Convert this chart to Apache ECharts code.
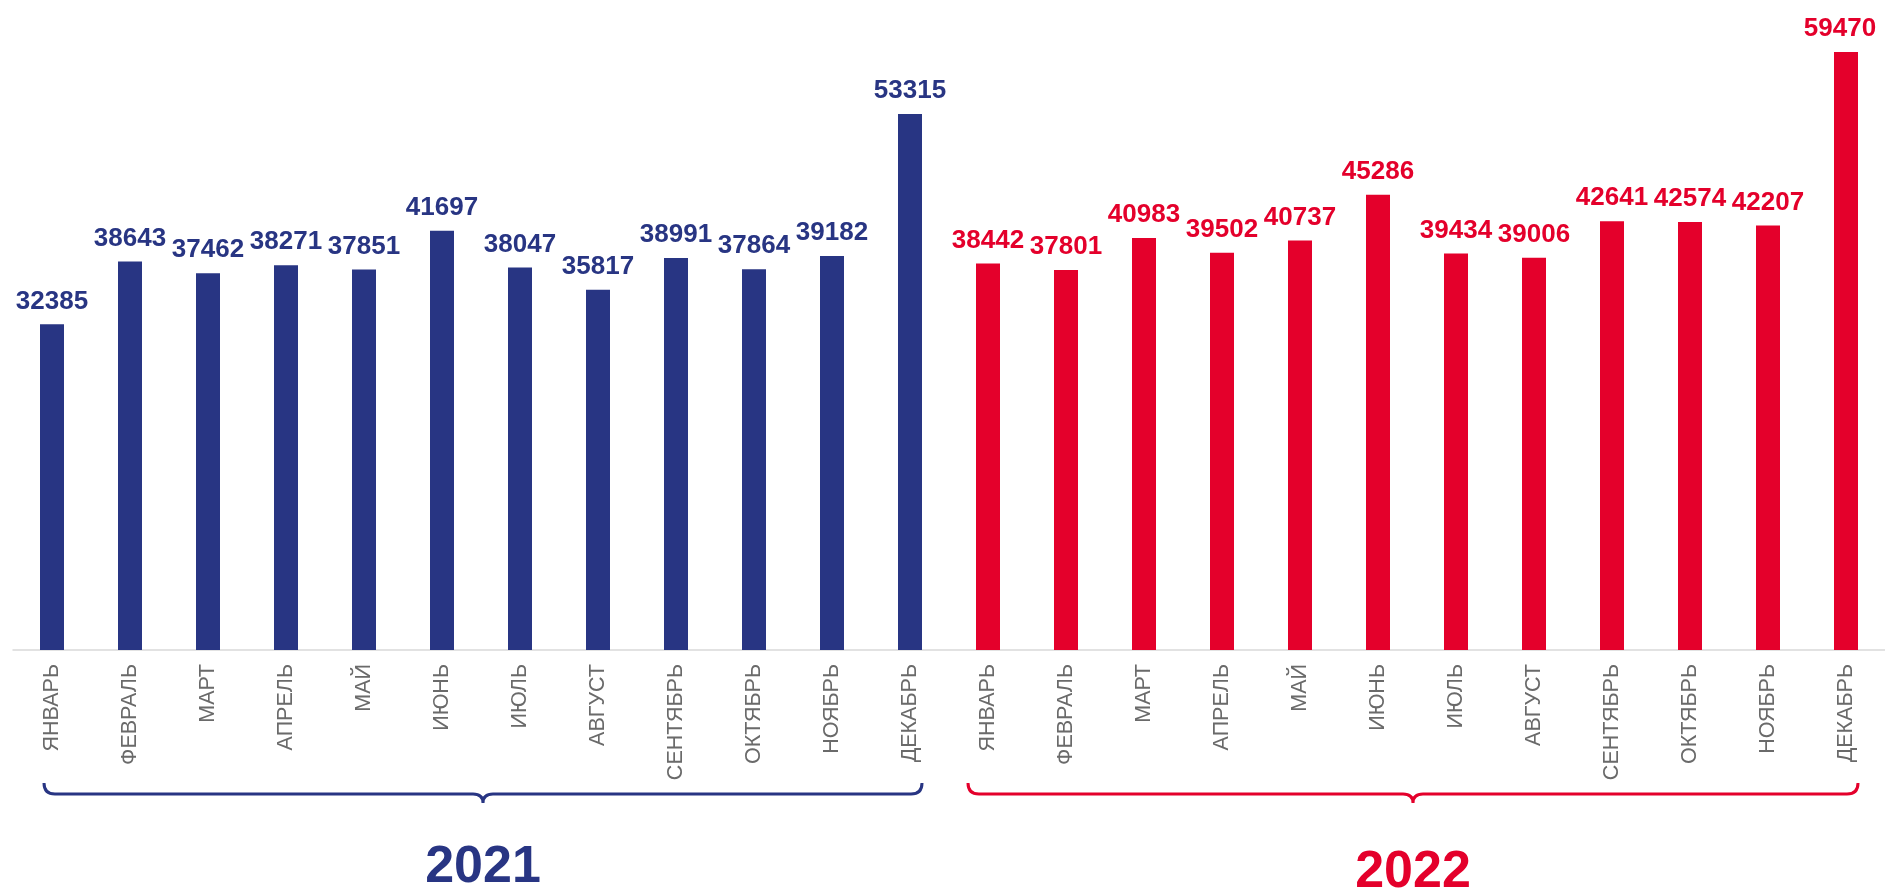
<!DOCTYPE html>
<html>
<head>
<meta charset="utf-8">
<title>2021 / 2022</title>
<script src="https://cdn.jsdelivr.net/npm/echarts@6/dist/echarts.min.js"></script>
<style>
  html, body { margin: 0; padding: 0; background: #fff; }
  #chart { width: 1885px; height: 893px; }
</style>
</head>
<body>
<div id="chart"></div>
<script>
const months = ['ЯНВАРЬ', 'ФЕВРАЛЬ', 'МАРТ', 'АПРЕЛЬ', 'МАЙ', 'ИЮНЬ', 'ИЮЛЬ', 'АВГУСТ', 'СЕНТЯБРЬ', 'ОКТЯБРЬ', 'НОЯБРЬ', 'ДЕКАБРЬ'];
const years = ['2021', '2022'];
const values2021 = [32385, 38643, 37462, 38271, 37851, 41697, 38047, 35817, 38991, 37864, 39182, 53315];
const values2022 = [38442, 37801, 40983, 39502, 40737, 45286, 39434, 39006, 42641, 42574, 42207, 59470];

const BLUE = '#283583';
const RED = '#e4002b';
const colors = [BLUE, RED];
const FONT = '"Liberation Sans", Arial, sans-serif';

const categories = months.concat(months);
const empty = months.map(() => null);
// 2021 takes the first twelve slots, 2022 the last twelve
const data2021 = values2021.concat(empty);
const data2022 = empty.concat(values2022.map((v, i) =>
    i === values2022.length - 1 ? { value: v, label: { offset: [-6, 0] } } : v));
// brace under each year: first and last category index
const braceData = years.map((y, i) => [i * months.length, (i + 1) * months.length - 1, 0]);

const chart = echarts.init(document.getElementById('chart'));

const barLabel = color => ({
    show: true,
    position: 'top',
    distance: 10,
    color: color,
    fontFamily: FONT,
    fontWeight: 'bold',
    fontSize: 26
});

function renderBrace(params, api) {
    const i = params.dataIndex;
    const half = 12;
    const a = api.coord([api.value(0), 0]);
    const b = api.coord([api.value(1), 0]);
    const x0 = a[0] - half + (i === 0 ? 4 : -8);
    const x1 = b[0] + half;
    const xm = (x0 + x1) / 2;
    const y = a[1] + 144;
    const d = 'M' + x0 + ' ' + (y - 11) + ' Q' + x0 + ' ' + y + ' ' + (x0 + 11) + ' ' + y +
        ' L' + (xm - 10) + ' ' + y + ' Q' + xm + ' ' + y + ' ' + xm + ' ' + (y + 9) +
        ' Q' + xm + ' ' + y + ' ' + (xm + 10) + ' ' + y +
        ' L' + (x1 - 11) + ' ' + y + ' Q' + x1 + ' ' + y + ' ' + x1 + ' ' + (y - 11);
    return {
        type: 'group',
        children: [{
            type: 'path',
            shape: { pathData: d },
            style: { fill: 'none', stroke: colors[i], lineWidth: 3 }
        }, {
            type: 'text',
            x: xm,
            y: a[1] + (i === 0 ? 218 : 223),
            style: {
                text: years[i],
                fill: colors[i],
                font: 'bold 52px ' + FONT,
                align: 'center',
                verticalAlign: 'middle'
            }
        }]
    };
}

chart.setOption({
    animation: false,
    grid: { left: 13, width: 1876, top: 46.7, bottom: 243 },
    xAxis: {
        type: 'category',
        data: categories,
        axisTick: { show: false },
        axisLine: { lineStyle: { color: '#d9d9d9', width: 1.5 } },
        axisLabel: {
            interval: 0,
            rotate: 90,
            margin: 14,
            color: '#6a6a6a',
            fontSize: 21.5,
            fontFamily: FONT
        }
    },
    yAxis: { type: 'value', min: 0, max: 60000, show: false },
    series: [
        { name: '2021', type: 'bar', data: data2021, barWidth: 24, barGap: '-100%', itemStyle: { color: BLUE }, label: barLabel(BLUE) },
        { name: '2022', type: 'bar', data: data2022, barWidth: 24, barGap: '-100%', itemStyle: { color: RED }, label: barLabel(RED) },
        { type: 'custom', data: braceData, encode: { x: [0, 1], y: 2 }, renderItem: renderBrace, silent: true }
    ]
});
</script>
</body>
</html>
